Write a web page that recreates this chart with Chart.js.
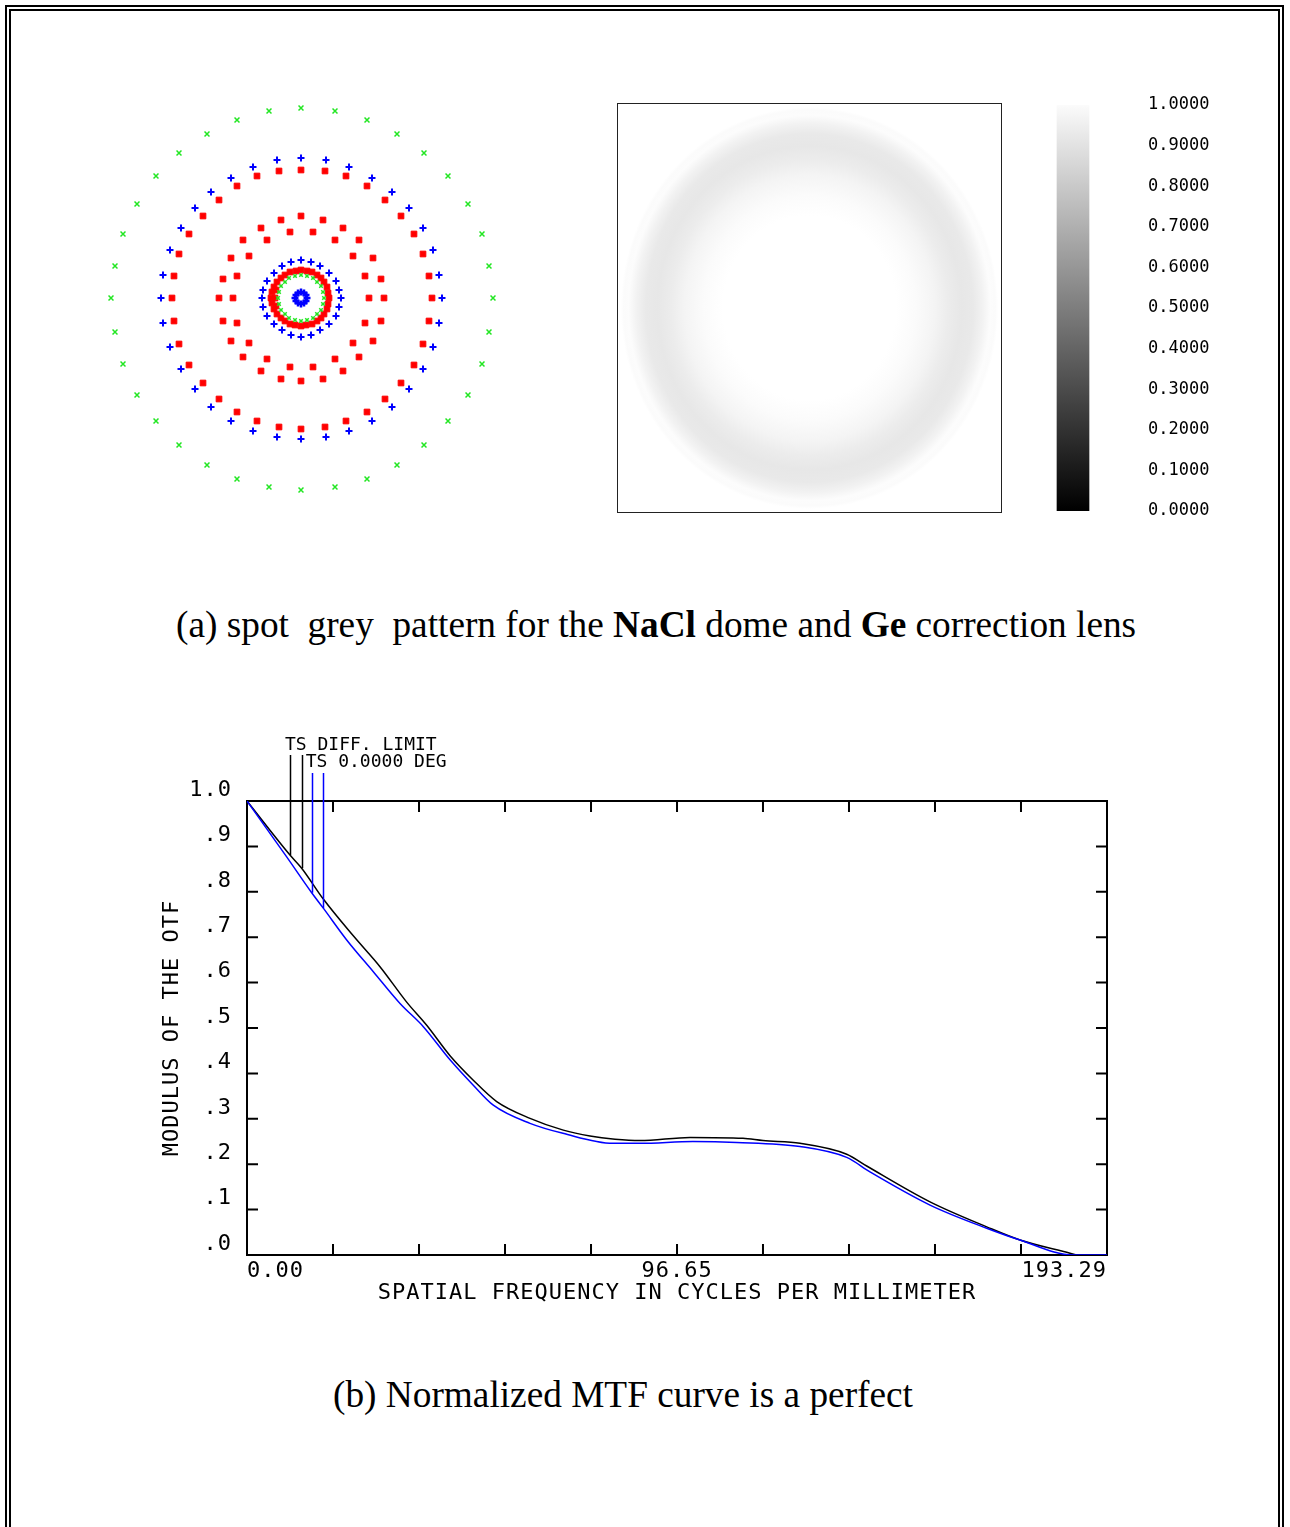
<!DOCTYPE html>
<html>
<head>
<meta charset="utf-8">
<script src="https://cdn.jsdelivr.net/npm/chart.js@4.4.1/dist/chart.umd.min.js"></script>
<style>
  html, body { margin: 0; padding: 0; background: #fff; }
  body { width: 1290px; height: 1527px; position: relative; overflow: hidden; }
  .frame { position: absolute; border: 2px solid #000; border-bottom: none; box-sizing: border-box; }
  #outer { left: 5px; top: 5px; width: 1279px; height: 1600px; }
  #inner { left: 9px; top: 9px; width: 1271px; height: 1600px; }
  canvas { position: absolute; }
  .caption { position: absolute; font-family: "Liberation Serif", "Times New Roman", serif; font-size: 37.3px; line-height: 37px; white-space: pre; color: #000; }
</style>
</head>
<body>
<div class="frame" id="outer"></div>
<div class="frame" id="inner"></div>
<canvas id="spot" width="410" height="410" style="left:96px; top:93px;"></canvas>
<canvas id="grey" width="385" height="410" style="left:617px; top:103px;"></canvas>
<canvas id="bar" width="230" height="440" style="left:1000px; top:90px;"></canvas>
<div class="caption" style="left:176px; top:606px;">(a) spot  grey  pattern for the <b>NaCl</b> dome and <b>Ge</b> correction lens</div>
<canvas id="mtf" width="980" height="595" style="left:150px; top:720px;"></canvas>
<div class="caption" style="left:333px; top:1376px;">(b) Normalized MTF curve is a perfect</div>
<script>
// Spot diagram: ray hits, offsets from the centre (y up)
const SPOT_GREEN_OUTER = [[0,190],[34,187],[66,178],[96,164],[123,145],[147,122],[167,94],[181,64],[188,32],[192,0],[188,-34],[181,-66],[167,-97],[147,-123],[123,-147],[96,-167],[66,-181],[34,-189],[0,-192],[-32,-189],[-64,-181],[-94,-167],[-122,-147],[-145,-123],[-164,-97],[-178,-66],[-186,-34],[-190,0],[-186,32],[-178,64],[-164,94],[-145,122],[-122,145],[-94,164],[-64,178],[-32,187]];
const SPOT_BLUE_OUTER = [[0,140],[25,138],[48,131],[71,120],[91,106],[108,90],[122,70],[132,48],[138,23],[141,0],[138,-25],[132,-49],[122,-71],[108,-91],[91,-109],[71,-123],[48,-133],[25,-139],[0,-141],[-24,-139],[-48,-133],[-70,-123],[-90,-109],[-106,-91],[-120,-71],[-131,-49],[-138,-25],[-140,0],[-138,23],[-131,48],[-120,70],[-106,90],[-90,106],[-70,120],[-48,131],[-24,138]];
const SPOT_RED_OUTER = [[0,128],[24,127],[45,122],[66,112],[84,98],[100,82],[113,64],[122,44],[128,22],[131,0],[128,-23],[122,-46],[113,-67],[100,-85],[84,-101],[66,-114],[45,-123],[24,-129],[0,-131],[-22,-129],[-44,-123],[-64,-114],[-82,-101],[-98,-85],[-112,-67],[-122,-46],[-127,-23],[-129,0],[-127,22],[-122,44],[-112,64],[-98,82],[-82,98],[-64,112],[-44,122],[-22,127]];
const SPOT_RED_MID = [[0,82],[22,78],[42,70],[58,58],[72,40],[80,19],[83,0],[80,-23],[72,-43],[58,-59],[42,-73],[22,-81],[0,-83],[-20,-81],[-40,-73],[-58,-59],[-70,-43],[-78,-23],[-82,0],[-78,19],[-70,40],[-58,58],[-40,70],[-20,78]];
const SPOT_RED_INNER = [[-11,66],[12,66],[34,58],[52,42],[64,22],[68,0],[64,-25],[52,-45],[34,-61],[12,-69],[-11,-69],[-34,-61],[-52,-45],[-64,-25],[-68,0],[-64,22],[-52,42],[-34,58]];
const SPOT_BLUE_INNER = [[0,38],[10,36],[19,32],[28,25],[35,17],[38,8],[40,0],[38,-9],[35,-18],[28,-26],[19,-32],[10,-37],[0,-39],[-10,-37],[-19,-32],[-27,-26],[-34,-18],[-38,-9],[-39,0],[-38,8],[-34,17],[-27,25],[-19,32],[-10,36]];
const SPOT_RED_CORE = [[0,28],[6,27],[11,26],[16,23],[20,20],[23,16],[26,11],[27,5],[28,0],[27,-6],[26,-11],[23,-16],[20,-20],[16,-23],[11,-26],[5,-27],[0,-28],[-6,-27],[-11,-26],[-16,-23],[-20,-20],[-24,-16],[-27,-11],[-29,-5],[-30,0],[-29,6],[-27,11],[-24,16],[-20,20],[-16,23],[-11,26],[-5,27],[-26,0],[-25,-8],[-25,8]];
const SPOT_GREEN_CORE = [[0,23],[6,22],[12,20],[16,16],[20,12],[22,6],[23,0],[22,-6],[20,-12],[16,-16],[12,-20],[6,-22],[0,-23],[-6,-22],[-12,-20],[-16,-16],[-20,-12],[-22,-6],[-23,0],[-22,6],[-20,12],[-16,16],[-12,20],[-6,22]];
const SPOT_BLUE_CENTER = [[0,6],[3,5],[5,3],[6,0],[5,-3],[3,-5],[0,-6],[-3,-5],[-5,-3],[-6,0],[-5,3],[-3,5]];

// Grey pattern: radial intensity profile (radius relative to the box half size)
const GREY_R     = [0, 0.45, 0.55, 0.65, 0.72, 0.79, 0.85, 0.90, 0.94, 0.965, 0.98, 1.0];
const GREY_LEVEL = [1.0, 1.0, 0.985, 0.955, 0.925, 0.905, 0.915, 0.95, 0.99, 0.985, 1.0, 1.0];

// Grey scale bar
const BAR_TICKS  = [0, 0.1, 0.2, 0.3, 0.4, 0.5, 0.6, 0.7, 0.8, 0.9, 1.0];
const BAR_LABELS = ['0.0000', '0.1000', '0.2000', '0.3000', '0.4000', '0.5000', '0.6000', '0.7000', '0.8000', '0.9000', '1.0000'];

// MTF curves
const FREQ_MAX = 193.29;
const DIFF_FREQ = [0, 9.66, 12.29, 17.15, 23.89, 29.89, 35.89, 40.39, 45.63, 50.86, 56.12, 63.61, 71.09, 77.09, 82.71, 88.33, 99.57, 111.48, 115.98, 124.29, 134.79, 139.28, 153.51, 166.25, 173.74, 184.98, 186.48];
const DIFF_MTF  = [1.0, 0.881, 0.852, 0.784, 0.703, 0.635, 0.557, 0.506, 0.439, 0.385, 0.338, 0.301, 0.275, 0.262, 0.255, 0.252, 0.259, 0.257, 0.252, 0.246, 0.222, 0.196, 0.117, 0.062, 0.033, 0.004, 0.0];
const TS_FREQ = [0, 8.92, 14.54, 17.15, 22.41, 28.39, 34.39, 39.63, 45.63, 50.86, 55.36, 63.61, 71.02, 82.26, 88.33, 100.24, 110.06, 124.29, 134.79, 140.03, 153.51, 166.25, 173.74, 185.65, 193.29];
const TS_MTF  = [1.0, 0.877, 0.798, 0.764, 0.694, 0.624, 0.554, 0.503, 0.430, 0.374, 0.330, 0.290, 0.268, 0.246, 0.246, 0.250, 0.248, 0.239, 0.215, 0.183, 0.110, 0.059, 0.033, 0.0, 0.0];
const LEADER_DIFF = [9.66, 12.29];
const LEADER_TS   = [14.54, 17.15];

const X_TICKS = [0, 19.33, 38.66, 57.99, 77.32, 96.65, 115.97, 135.30, 154.63, 173.96, 193.29];
const X_TICK_LABELS = ['0.00', '', '', '', '', '96.65', '', '', '', '', '193.29'];
const Y_TICKS = [0, 0.1, 0.2, 0.3, 0.4, 0.5, 0.6, 0.7, 0.8, 0.9, 1.0];
const Y_TICK_LABELS = ['.0', '.1', '.2', '.3', '.4', '.5', '.6', '.7', '.8', '.9', '1.0'];

const MONO = 'DejaVu Sans Mono';
const GREEN = '#22e622';
const BLUE  = '#0000ff';
const RED   = '#ff0000';

const points = arr => arr.map(([x, y]) => ({ x, y }));
const series = (xs, ys) => xs.map((x, i) => ({ x, y: ys[i] }));

function spotSet(pts, style, color, radius, width) {
    return {
        data: points(pts),
        pointStyle: style,
        pointRadius: radius,
        borderColor: color,
        backgroundColor: color,
        borderWidth: width,
        showLine: false
    };
}

const base = {
    responsive: false,
    animation: false,
    devicePixelRatio: 1,
    events: [],
    plugins: { legend: { display: false }, tooltip: { enabled: false } }
};

// spot diagram
new Chart(document.getElementById('spot'), {
    type: 'scatter',
    data: {
        datasets: [
            spotSet(SPOT_GREEN_CORE, 'crossRot', GREEN, 2.5, 1.5),
            spotSet(SPOT_BLUE_CENTER, 'cross', BLUE, 3.5, 2.5),
            spotSet(SPOT_RED_CORE, 'rect', RED, 4, 1),
            spotSet(SPOT_BLUE_INNER, 'cross', BLUE, 3.5, 2),
            spotSet(SPOT_RED_INNER, 'rect', RED, 4, 1),
            spotSet(SPOT_RED_MID, 'rect', RED, 4, 1),
            spotSet(SPOT_RED_OUTER, 'rect', RED, 4, 1),
            spotSet(SPOT_BLUE_OUTER, 'cross', BLUE, 3.5, 2),
            spotSet(SPOT_GREEN_OUTER, 'crossRot', GREEN, 3.5, 1.5)
        ]
    },
    options: {
        ...base,
        layout: { padding: 0, autoPadding: false },
        scales: {
            x: { type: 'linear', display: false, min: -205, max: 205 },
            y: { type: 'linear', display: false, min: -205, max: 205 }
        }
    }
});

// grey pattern
const greyPlugin = {
    id: 'greyPattern',
    beforeDatasetsDraw(chart) {
        const { ctx, chartArea: a, scales: { x, y } } = chart;
        const cx = x.getPixelForValue(0), cy = y.getPixelForValue(0);
        const rx = x.getPixelForValue(1) - cx, ry = cy - y.getPixelForValue(1);
        ctx.save();
        ctx.translate(cx, cy);
        ctx.scale(1, ry / rx);
        const g = ctx.createRadialGradient(0, 0, 0, 0, 0, rx);
        GREY_R.forEach((r, i) => {
            const c = Math.round(GREY_LEVEL[i] * 255);
            g.addColorStop(r, `rgb(${c},${c},${c})`);
        });
        ctx.fillStyle = g;
        ctx.fillRect(-rx, -rx, 2 * rx, 2 * rx);
        ctx.restore();
        ctx.save();
        ctx.strokeStyle = '#222';
        ctx.lineWidth = 1;
        ctx.strokeRect(a.left + 0.5, a.top + 0.5, a.right - a.left - 1, a.bottom - a.top - 1);
        ctx.restore();
    }
};

new Chart(document.getElementById('grey'), {
    type: 'scatter',
    data: { datasets: [] },
    options: {
        ...base,
        layout: { padding: 0, autoPadding: false },
        scales: {
            x: { type: 'linear', display: false, min: -1, max: 1 },
            y: { type: 'linear', display: false, min: -1, max: 1 }
        }
    },
    plugins: [greyPlugin]
});

// grey scale bar
new Chart(document.getElementById('bar'), {
    type: 'bar',
    data: {
        labels: [''],
        datasets: [{
            data: [[0, 1]],
            barThickness: 32,
            borderWidth: 0,
            backgroundColor: c => {
                const { ctx, chartArea } = c.chart;
                if (!chartArea) return '#888';
                const g = ctx.createLinearGradient(0, chartArea.bottom, 0, chartArea.top);
                g.addColorStop(0, '#000');
                g.addColorStop(1, '#fbfbfb');
                return g;
            }
        }]
    },
    options: {
        ...base,
        layout: { padding: { left: 0, right: 0, top: 15, bottom: 19 } },
        scales: {
            x: { display: false },
            y: {
                position: 'right',
                min: 0,
                max: 1,
                afterBuildTicks: s => { s.ticks = BAR_TICKS.map(v => ({ value: v })); },
                afterFit: s => { s.width = 84; },
                grid: { display: false, drawTicks: false },
                border: { display: false },
                ticks: {
                    padding: 2,
                    color: '#000',
                    font: { family: MONO, size: 17 },
                    callback: (v, i) => BAR_LABELS[i]
                }
            }
        }
    }
});

// MTF plot
const spacingPlugin = {
    id: 'spacing',
    beforeDraw(chart) { chart.ctx.letterSpacing = '1px'; },
    afterDraw(chart) { chart.ctx.letterSpacing = '0px'; }
};

const framePlugin = {
    id: 'frame',
    beforeDatasetsDraw(chart) {
        const { ctx, chartArea: a, scales: { x, y } } = chart;
        ctx.save();
        ctx.strokeStyle = '#000';
        ctx.lineWidth = 2;
        ctx.strokeRect(a.left, a.top, a.right - a.left, a.bottom - a.top);
        ctx.beginPath();
        X_TICKS.forEach(v => {
            const px = x.getPixelForValue(v);
            ctx.moveTo(px, a.bottom); ctx.lineTo(px, a.bottom - 11);
            ctx.moveTo(px, a.top);    ctx.lineTo(px, a.top + 11);
        });
        Y_TICKS.forEach(v => {
            const py = y.getPixelForValue(v);
            ctx.moveTo(a.left, py);  ctx.lineTo(a.left + 11, py);
            ctx.moveTo(a.right, py); ctx.lineTo(a.right - 11, py);
        });
        ctx.stroke();
        ctx.restore();
    }
};

const leaderPlugin = {
    id: 'leaders',
    afterDatasetsDraw(chart) {
        const { ctx, chartArea: a, scales: { x, y } } = chart;
        ctx.save();
        ctx.letterSpacing = '0px';
        ctx.lineWidth = 1.5;
        const draw = (freqs, fs, ms, color, top) => {
            ctx.strokeStyle = color;
            ctx.beginPath();
            freqs.forEach(f => {
                const px = Math.round(x.getPixelForValue(f)) + 0.5;
                ctx.moveTo(px, top);
                ctx.lineTo(px, y.getPixelForValue(ms[fs.indexOf(f)]));
            });
            ctx.stroke();
        };
        draw(LEADER_DIFF, DIFF_FREQ, DIFF_MTF, '#000', a.top - 46);
        draw(LEADER_TS, TS_FREQ, TS_MTF, BLUE, a.top - 28);
        ctx.fillStyle = '#000';
        ctx.font = `18px "${MONO}"`;
        ctx.textBaseline = 'alphabetic';
        ctx.textAlign = 'left';
        ctx.fillText('TS DIFF. LIMIT', x.getPixelForValue(LEADER_DIFF[0]) - 5, a.top - 51);
        ctx.fillText('TS 0.0000 DEG', x.getPixelForValue(LEADER_DIFF[1]) + 4, a.top - 34);
        ctx.restore();
    }
};

const axisFont = { family: MONO, size: 22 };

new Chart(document.getElementById('mtf'), {
    type: 'line',
    data: {
        datasets: [
            {
                label: 'TS 0.0000 DEG',
                data: series(TS_FREQ, TS_MTF),
                borderColor: BLUE,
                borderWidth: 1.5,
                pointRadius: 0,
                cubicInterpolationMode: 'monotone',
                fill: false
            },
            {
                label: 'TS DIFF. LIMIT',
                data: series(DIFF_FREQ, DIFF_MTF),
                borderColor: '#000',
                borderWidth: 1.5,
                pointRadius: 0,
                cubicInterpolationMode: 'monotone',
                fill: false
            }
        ]
    },
    options: {
        ...base,
        layout: { padding: { left: 0, right: 23, top: 81, bottom: 0 }, autoPadding: false },
        scales: {
            x: {
                type: 'linear',
                min: 0,
                max: FREQ_MAX,
                afterBuildTicks: s => { s.ticks = X_TICKS.map(v => ({ value: v })); },
                afterFit: s => { s.height = 60; },
                grid: { display: false, drawTicks: false },
                border: { display: false },
                ticks: {
                    align: 'inner',
                    padding: 3,
                    maxRotation: 0,
                    autoSkip: false,
                    color: '#000',
                    font: axisFont,
                    callback: (v, i) => X_TICK_LABELS[i]
                },
                title: {
                    display: true,
                    text: 'SPATIAL FREQUENCY IN CYCLES PER MILLIMETER',
                    color: '#000',
                    font: axisFont,
                    padding: { top: 0, bottom: 9 }
                }
            },
            y: {
                type: 'linear',
                min: 0,
                max: 1,
                afterBuildTicks: s => { s.ticks = Y_TICKS.map(v => ({ value: v })); },
                afterFit: s => { s.width = 97; },
                grid: { display: false, drawTicks: false },
                border: { display: false },
                ticks: {
                    padding: 15,
                    labelOffset: -11,
                    autoSkip: false,
                    color: '#000',
                    font: axisFont,
                    callback: (v, i) => Y_TICK_LABELS[i]
                },
                title: {
                    display: true,
                    text: 'MODULUS OF THE OTF',
                    color: '#000',
                    font: axisFont,
                    padding: { top: 9, bottom: 0 }
                }
            }
        }
    },
    plugins: [spacingPlugin, framePlugin, leaderPlugin]
});
</script>
</body>
</html>
